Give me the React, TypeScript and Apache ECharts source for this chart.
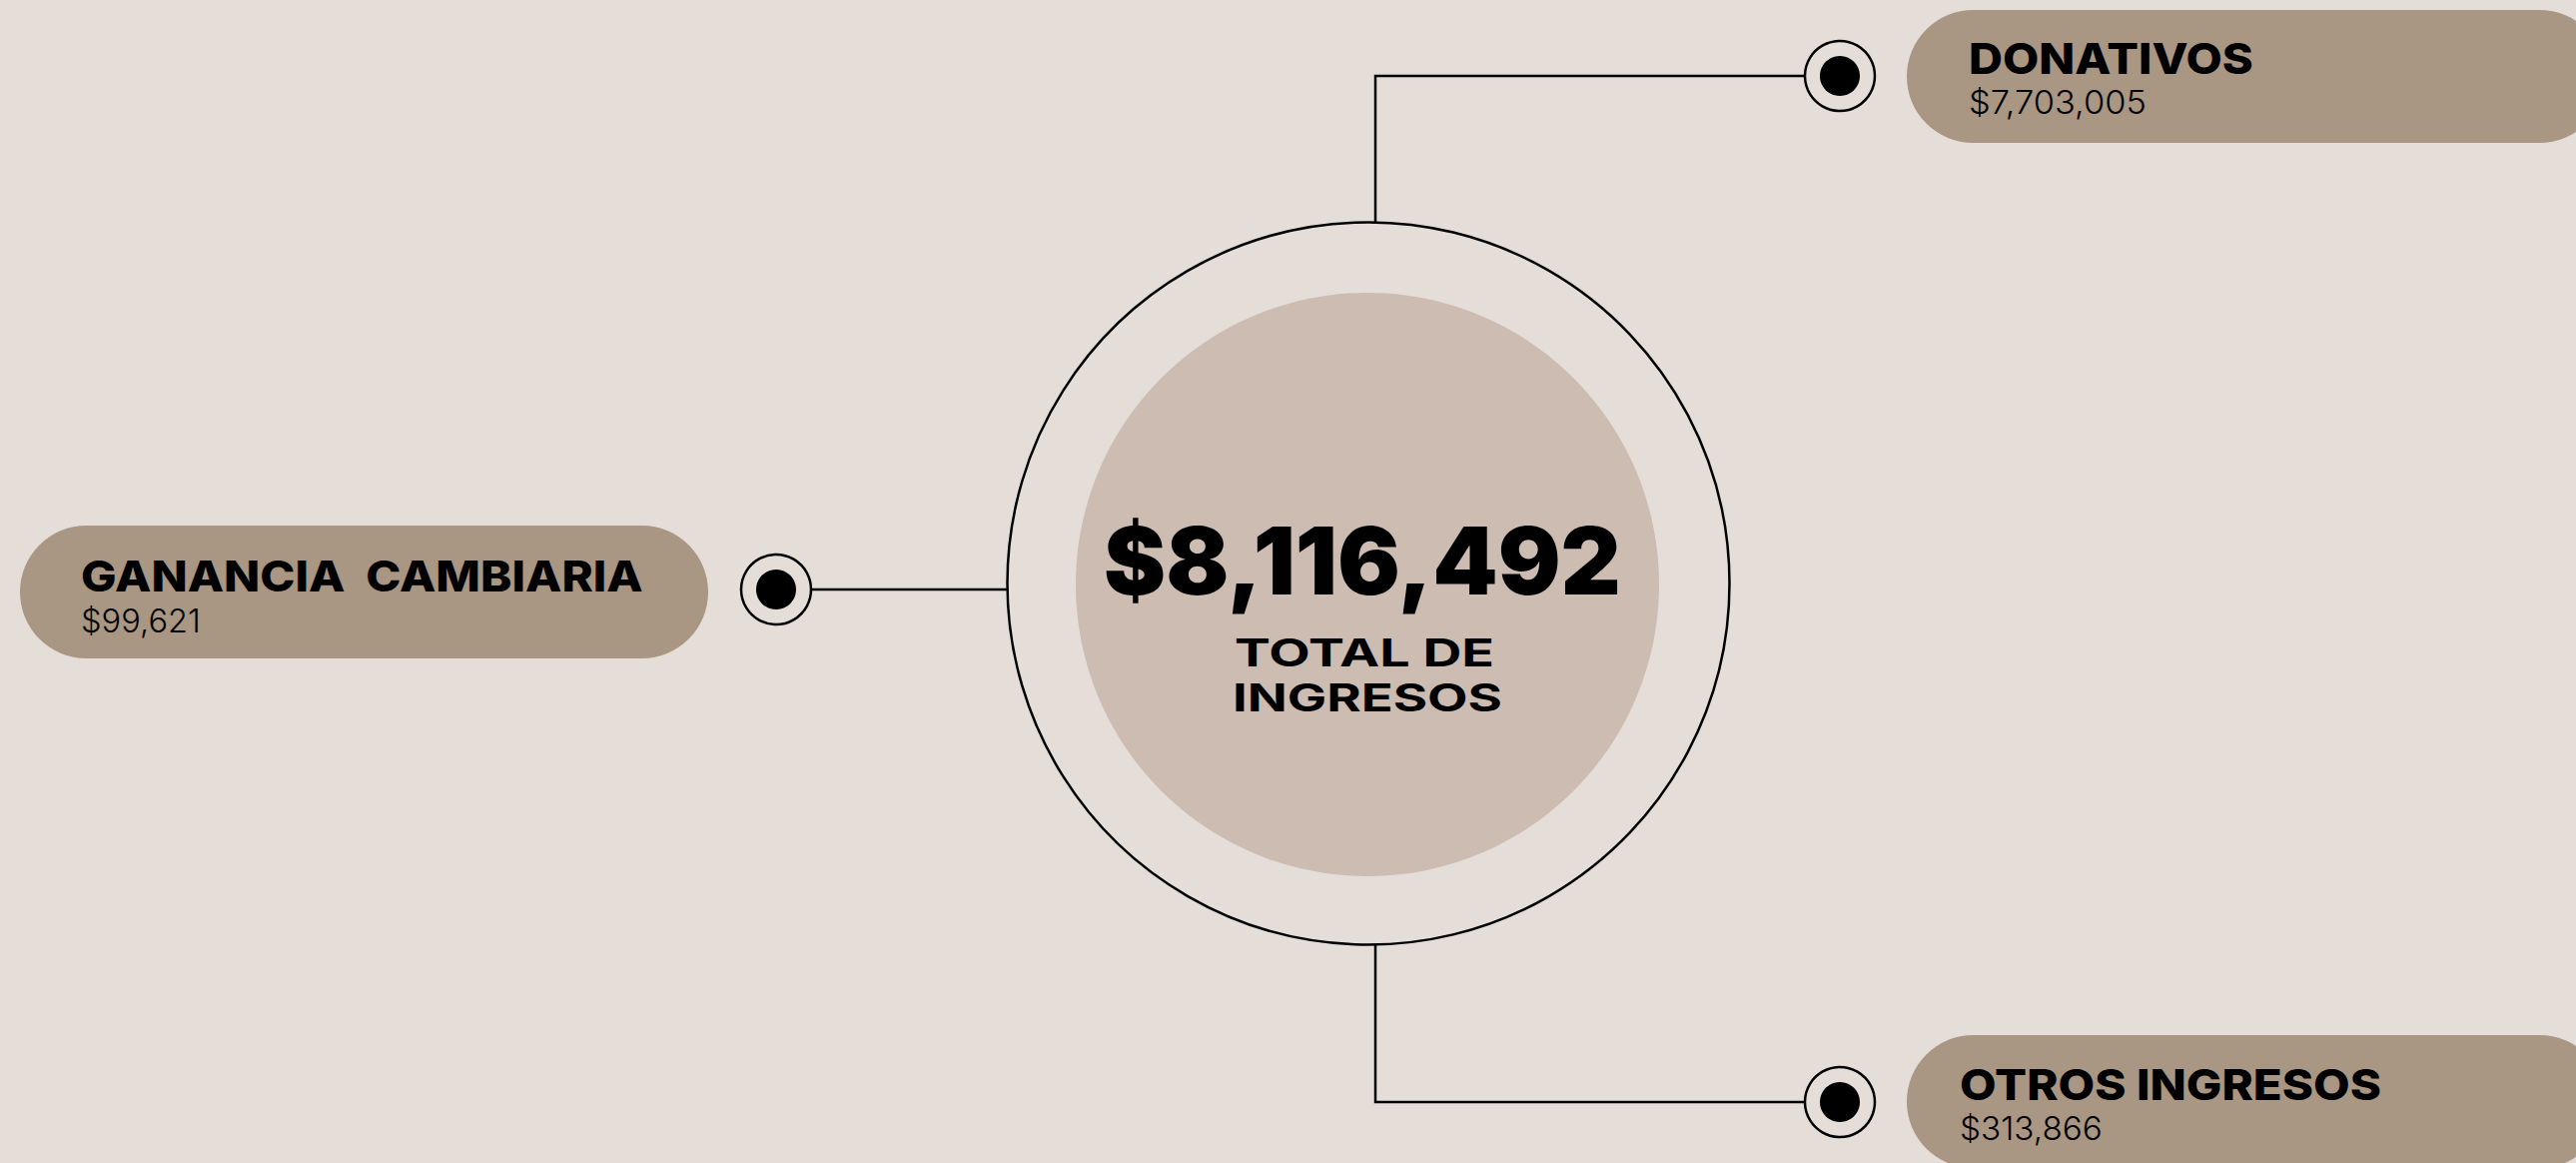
import React, { useEffect, useRef } from "react";
import * as echarts from "echarts";

// ---- data ----
const categories = ["DONATIVOS", "GANANCIA  CAMBIARIA", "OTROS INGRESOS"];
const values = [7703005, 99621, 313866];
const totalCaption = ["TOTAL DE", "INGRESOS"];

const W = 2579;
const H = 1164;
const BG = "#E4DDD8";
const PILL = "#A99683";
const INNER = "#CDBCB1";
const FONT = "Inter, 'Noto Sans', sans-serif";

const fmt = (v: number) => "$" + v.toLocaleString("en-US");

let _ctx: CanvasRenderingContext2D | null = null;
function fitScale(text: string, weight: number, size: number, target: number) {
  if (!_ctx) _ctx = document.createElement("canvas").getContext("2d");
  if (!_ctx) return 1;
  _ctx.font = `${weight} ${size}px Inter`;
  const w = _ctx.measureText(text).width;
  return w > 0 ? target / w : 1;
}

function txt(
  text: string,
  x: number,
  y: number,
  size: number,
  weight: number,
  targetW: number,
  align: "left" | "center" = "left"
) {
  return {
    type: "text",
    x,
    y,
    scaleX: fitScale(text, weight, size, targetW),
    z: 10,
    style: {
      text,
      x: 0,
      y: 0,
      fill: "#000",
      fontSize: size,
      fontWeight: weight,
      fontFamily: FONT,
      align,
      verticalAlign: "middle",
      textAlign: align,
      textVerticalAlign: "middle",
    },
  };
}

// layout of the three items: pill box, dot centre, connector polyline, text positions
const layout = [
  {
    pill: { x: 1909, y: 10, width: 700, height: 133 },
    dot: [1842, 76],
    conn: [
      [1377, 222],
      [1377, 76],
      [1807, 76],
    ],
    tx: 1971,
    ty: 58.5,
    vy: 102,
    tw: 285,
    vw: 178,
  },
  {
    pill: { x: 20, y: 526, width: 689, height: 133 },
    dot: [777, 590],
    conn: [
      [1009, 590],
      [812, 590],
    ],
    tx: 81,
    ty: 576.5,
    vy: 621,
    tw: 563,
    vw: 120,
  },
  {
    pill: { x: 1909, y: 1036, width: 700, height: 133 },
    dot: [1842, 1103],
    conn: [
      [1377, 945],
      [1377, 1103],
      [1807, 1103],
    ],
    tx: 1962,
    ty: 1085.5,
    vy: 1129,
    tw: 422,
    vw: 143,
  },
];

export default function App() {
  const ref = useRef<HTMLDivElement>(null);
  useEffect(() => {
    document.body.style.margin = "0";
    if (!ref.current) return;
    const chart = echarts.init(ref.current, undefined, { renderer: "svg" });
    const total = values.reduce((a, b) => a + b, 0);
    const elements: any[] = [];

    // central circles
    elements.push({
      type: "circle",
      shape: { cx: 1369, cy: 585, r: 292 },
      style: { fill: INNER },
      z: 1,
    });
    elements.push({
      type: "circle",
      shape: { cx: 1370, cy: 584, r: 361.5 },
      style: { fill: "none", stroke: "#000", lineWidth: 2.5 },
      z: 2,
    });

    categories.forEach((cat, i) => {
      const L = layout[i];
      elements.push({
        type: "rect",
        shape: { ...L.pill, r: L.pill.height / 2 },
        style: { fill: PILL },
        z: 1,
      });
      elements.push({
        type: "polyline",
        shape: { points: L.conn },
        style: { fill: "none", stroke: "#000", lineWidth: 2.5 },
        z: 2,
      });
      elements.push({
        type: "circle",
        shape: { cx: L.dot[0], cy: L.dot[1], r: 35 },
        style: { fill: BG, stroke: "#000", lineWidth: 2.5 },
        z: 3,
      });
      elements.push({
        type: "circle",
        shape: { cx: L.dot[0], cy: L.dot[1], r: 20 },
        style: { fill: "#000" },
        z: 4,
      });
      elements.push(txt(cat, L.tx, L.ty, 43, 800, L.tw));
      elements.push(txt(fmt(values[i]), L.tx, L.vy, 33, 300, L.vw));
    });

    // centre texts
    elements.push(txt(fmt(total), 1364, 561, 94, 900, 518, "center"));
    elements.push(txt(totalCaption[0], 1366, 653, 38, 700, 260, "center"));
    elements.push(txt(totalCaption[1], 1369, 698.5, 38, 700, 270, "center"));

    chart.setOption({
      animation: false,
      backgroundColor: BG,
      graphic: { elements },
    });
    return () => chart.dispose();
  }, []);
  return <div ref={ref} style={{ width: W, height: H }} />;
}
